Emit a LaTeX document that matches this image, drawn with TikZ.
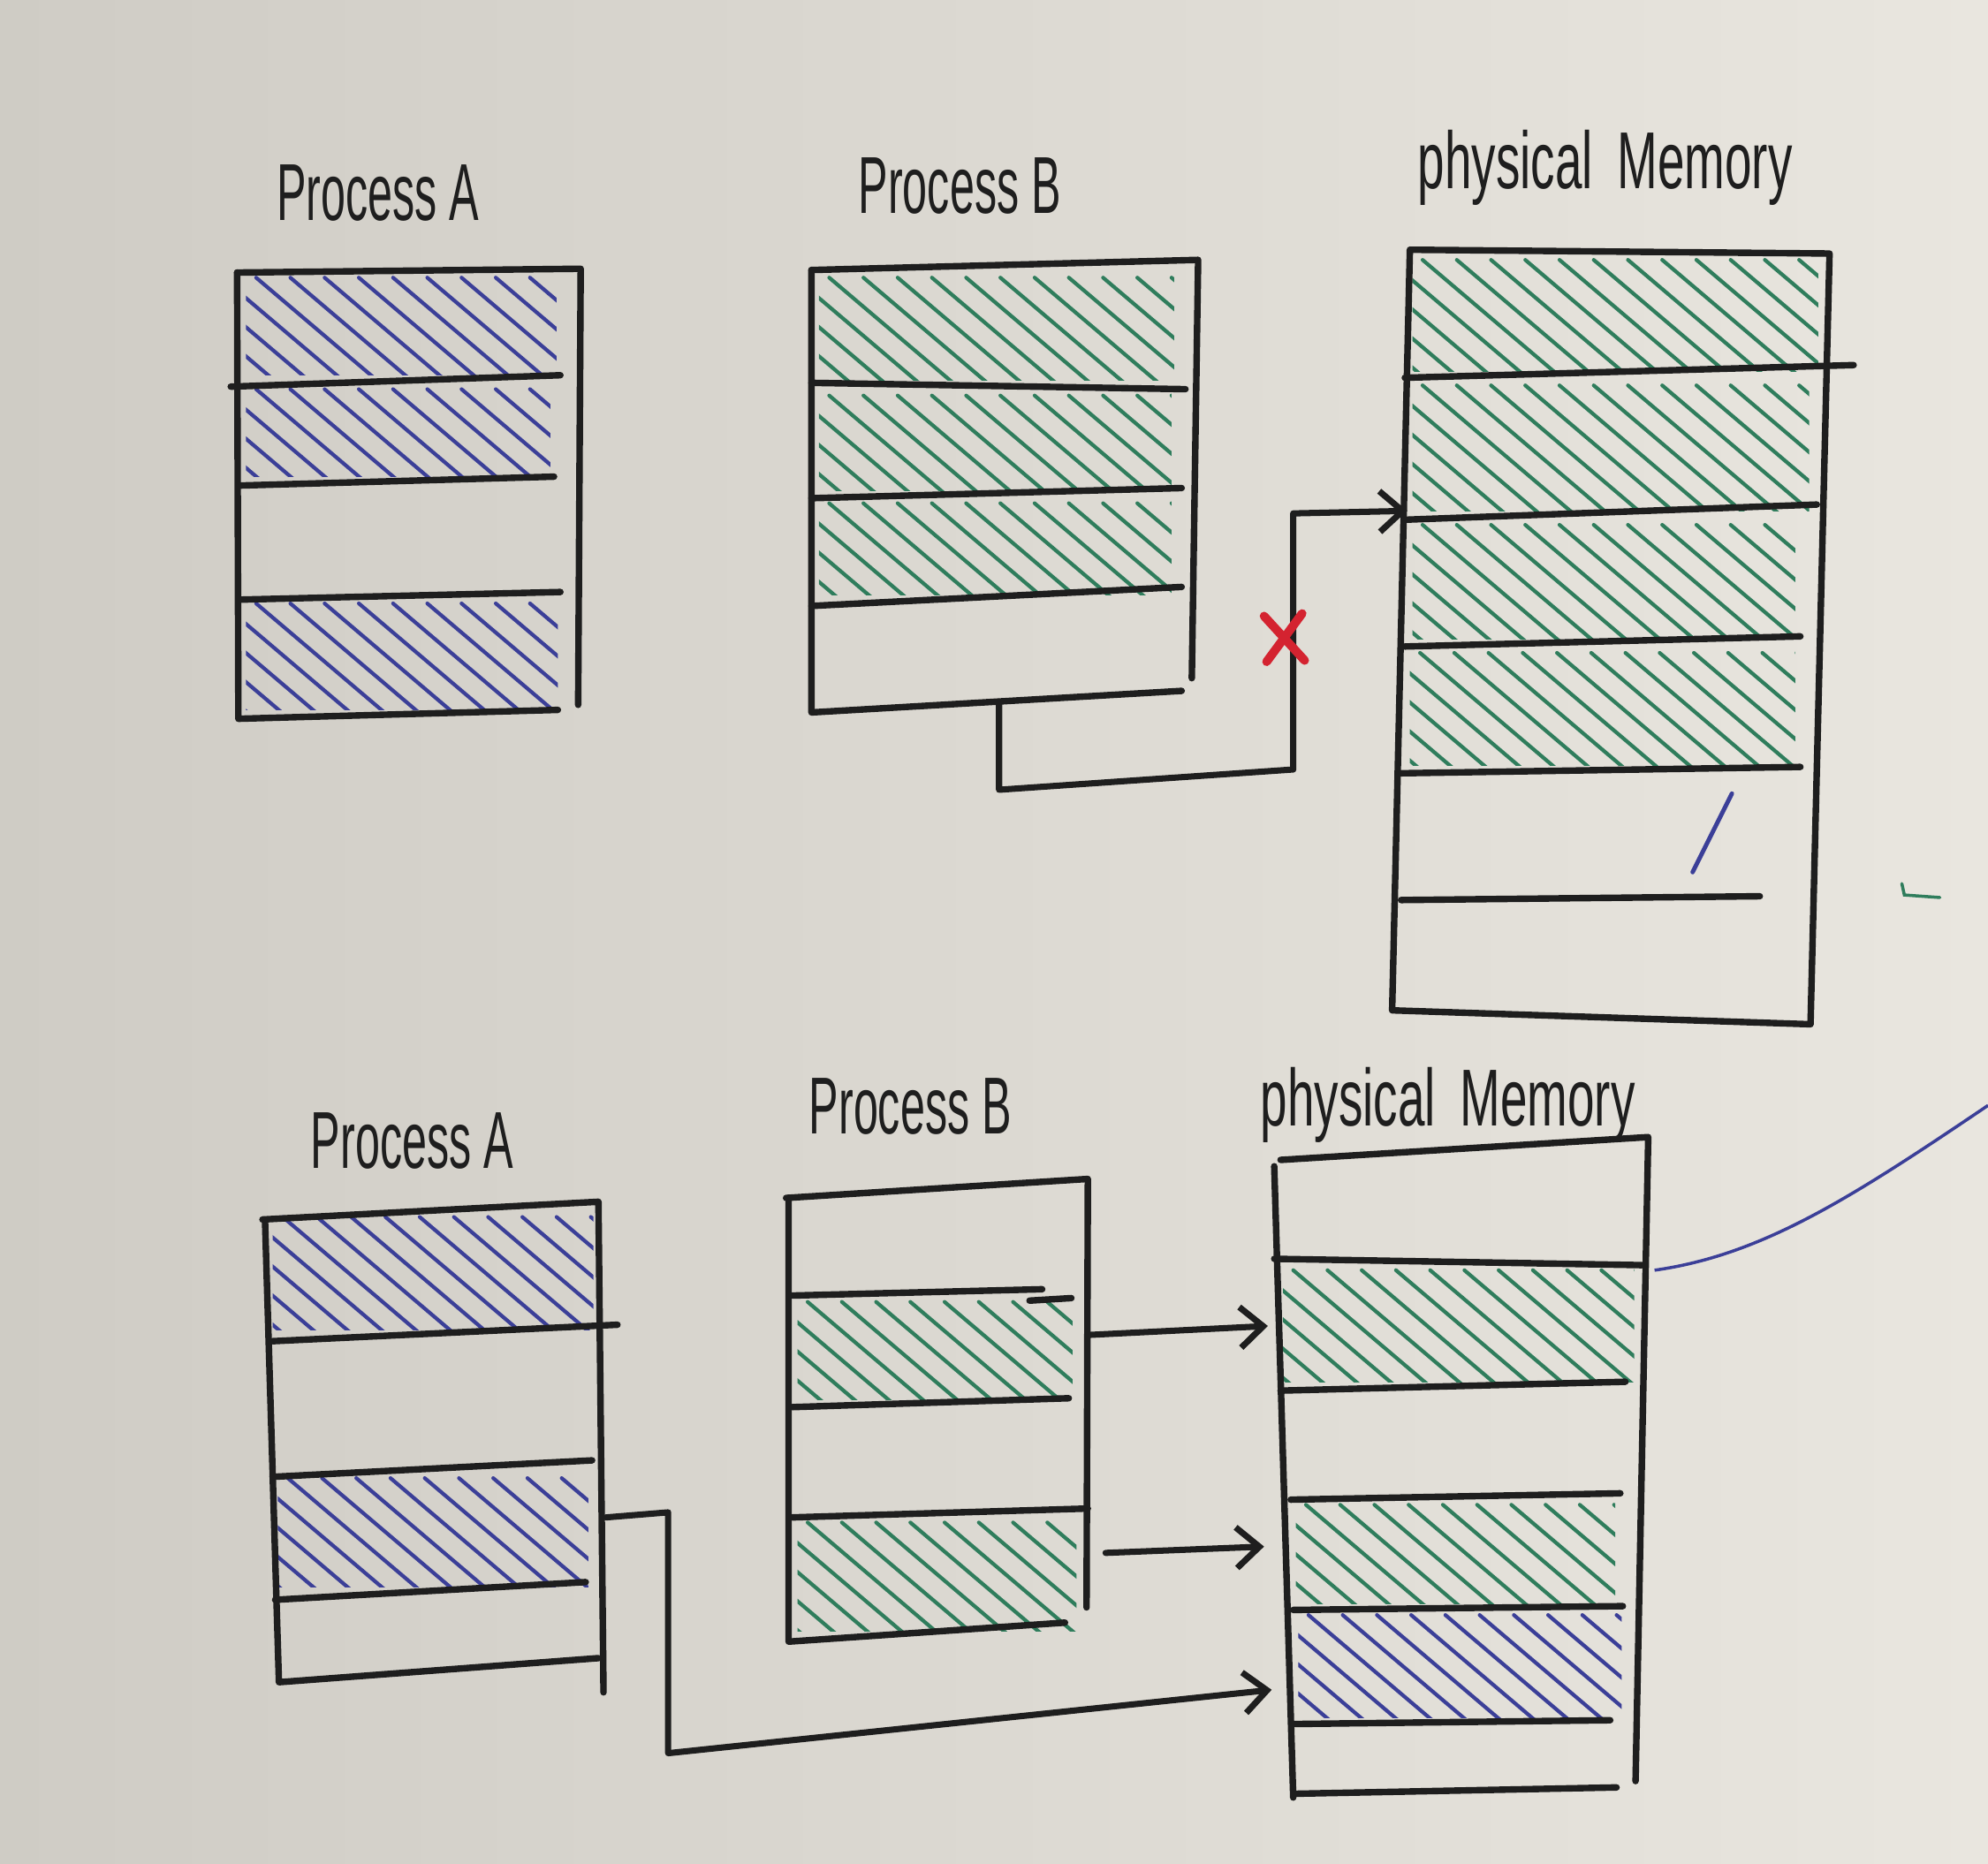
\documentclass[tikz,border=0pt]{standalone}
\usepackage{fontspec}
\setmainfont{Liberation Sans}
\usetikzlibrary{arrows.meta}
\definecolor{paperL}{HTML}{CFCCC5}
\definecolor{paperR}{HTML}{E9E6DF}
\definecolor{ink}{HTML}{1E1E1E}
\definecolor{bluei}{HTML}{3B3F98}
\definecolor{greeni}{HTML}{2F7D5C}
\definecolor{redi}{HTML}{D42330}
\newcommand\hatchrow[5]{%
  \begin{scope}
    \clip (#1+4,#2+3) rectangle (#3-6,#4-3);
    \foreach \i in {0,...,22}
      \draw[hatchline,#5] ({#1-150+\i*27},{#2+5}) -- ++(160,136);
  \end{scope}}
\tikzset{
  edge/.style={draw=ink, line width=2.1pt, line cap=round, line join=round},
  hatchline/.style={line width=1.2pt, line cap=round},
  conn/.style={draw=ink, line width=2pt, line cap=round, line join=round},
  connarrow/.style={conn, -{Straight Barb[length=2.6mm,width=4.6mm,line width=2pt]}},
  lbl/.style={text=ink, inner sep=0pt, font=\fontsize{26}{28}\selectfont},
}
\begin{document}
\begin{tikzpicture}[x=0.01435cm, y=-0.01435cm]
\useasboundingbox (0,0) rectangle (1568,1470);
\shade[left color=paperL, right color=paperR] (0,0) rectangle (1568,1470);

% ---------------- Labels ----------------
\node[lbl] (lA1) at (298,152) {\scalebox{0.55}[1]{Process A}};
\node[lbl] (lB1) at (757,147) {\scalebox{0.55}[1]{Process B}};
\node[lbl] (lM1) at (1266,132) {\scalebox{0.6}[1]{physical\enspace Memory}};
\node[lbl] (lA2) at (325,900) {\scalebox{0.55}[1]{Process A}};
\node[lbl] (lB2) at (718,873) {\scalebox{0.55}[1]{Process B}};
\node[lbl] (lM2) at (1142,872) {\scalebox{0.6}[1]{physical\enspace Memory}};

% ================= TOP =================
% Process A (top)
\hatchrow{190}{214}{445}{299}{bluei}
\hatchrow{190}{302}{440}{379}{bluei}
\hatchrow{190}{471}{446}{563}{bluei}
\draw[edge] (187,215) -- (458,212) -- (456,556);
\draw[edge] (187,215) -- (188,567) -- (440,560);
\draw[edge] (182,305) -- (442,296);
\draw[edge] (190,383) -- (437,376);
\draw[edge] (190,473) -- (442,467);

% Process B (top)
\hatchrow{642}{214}{932}{303}{greeni}
\hatchrow{642}{307}{930}{390}{greeni}
\hatchrow{642}{392}{930}{472}{greeni}
\draw[edge] (640,213) -- (945,205) -- (940,535);
\draw[edge] (640,213) -- (640,562) -- (932,545);
\draw[edge] (640,302) -- (935,307);
\draw[edge] (640,393) -- (932,385);
\draw[edge] (640,478) -- (932,463);

% Physical memory (top)
\hatchrow{1110}{200}{1440}{296}{greeni}
\hatchrow{1110}{299}{1433}{406}{greeni}
\hatchrow{1110}{409}{1422}{507}{greeni}
\hatchrow{1108}{510}{1422}{607}{greeni}
\draw[edge] (1112,197) -- (1443,200) -- (1428,808) -- (1098,797) -- cycle;
\draw[edge] (1108,298) -- (1462,288);
\draw[edge] (1108,410) -- (1433,398);
\draw[edge] (1108,510) -- (1420,502);
\draw[edge] (1105,610) -- (1420,605);
\draw[edge] (1105,710) -- (1388,707);
% stray pen marks
\draw[bluei, line width=1.4pt, line cap=round] (1335,688) -- (1366,626);
\draw[greeni, line width=1pt, line cap=round] (1500,697) -- (1502,706) -- (1530,708);

% connector top (blocked)
\coordinate (pb1out) at (788,555);
\coordinate (pm1in) at (1110,403);
\draw[connarrow] (pb1out) -- (788,623) -- (1020,607) -- (1020,405) -- (pm1in);
\draw[redi, line width=2.8pt, line cap=round] (997,486) -- (1029,521);
\draw[redi, line width=2.8pt, line cap=round] (1027,484) -- (999,522);

% ================= BOTTOM =================
% Process A (bottom)
\hatchrow{211}{955}{474}{1052}{bluei}
\hatchrow{215}{1161}{470}{1255}{bluei}
\draw[edge] (207,962) -- (472,948) -- (476,1335);
\draw[edge] (209,962) -- (220,1327) -- (472,1308);
\draw[edge] (215,1058) -- (487,1045);
\draw[edge] (215,1165) -- (467,1152);
\draw[edge] (217,1262) -- (462,1248);

% Process B (bottom)
\hatchrow{625}{1022}{852}{1107}{greeni}
\hatchrow{625}{1196}{855}{1290}{greeni}
\draw[edge] (620,945) -- (858,930) -- (857,1268);
\draw[edge] (622,945) -- (622,1295) -- (840,1280);
\draw[edge] (625,1022) -- (822,1017);
\draw[edge] (812,1026) -- (845,1024);
\draw[edge] (625,1110) -- (843,1103);
\draw[edge] (625,1197) -- (858,1190);

% Physical memory (bottom)
\hatchrow{1008}{997}{1295}{1093}{greeni}
\hatchrow{1018}{1182}{1280}{1268}{greeni}
\hatchrow{1020}{1269}{1285}{1358}{bluei}
\draw[edge] (1010,915) -- (1300,897) -- (1290,1405);
\draw[edge] (1005,920) -- (1020,1418);
\draw[edge] (1005,993) -- (1295,998);
\draw[edge] (1010,1097) -- (1282,1090);
\draw[edge] (1018,1183) -- (1278,1178);
\draw[edge] (1020,1270) -- (1280,1267);
\draw[edge] (1020,1360) -- (1270,1357);
\draw[edge] (1022,1415) -- (1275,1410);
% stray blue stroke
\draw[bluei, line width=1pt] (1305,1002) .. controls (1390,990) and (1460,945) .. (1568,872);

% connectors bottom
\coordinate (pb2r2) at (860,1053);
\coordinate (pm2r2) at (1000,1046);
\coordinate (pb2r4) at (872,1225);
\coordinate (pm2r4) at (997,1220);
\coordinate (pa2r3) at (478,1197);
\coordinate (pm2r5) at (1003,1333);
\draw[connarrow] (pb2r2) -- (pm2r2);
\draw[connarrow] (pb2r4) -- (pm2r4);
\draw[connarrow] (pa2r3) -- (527,1193) -- (527,1383) -- (pm2r5);
\end{tikzpicture}
\end{document}
